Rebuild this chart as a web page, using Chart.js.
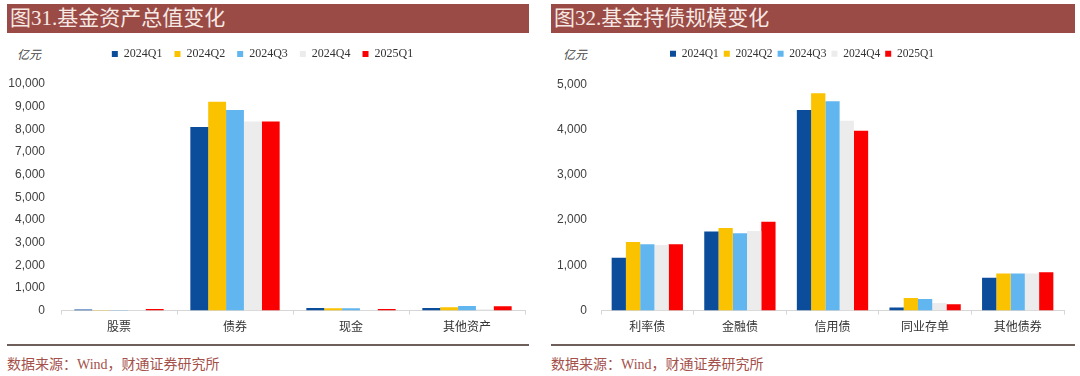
<!DOCTYPE html>
<html>
<head>
<meta charset="utf-8">
<script src="https://cdn.jsdelivr.net/npm/chart.js@4"></script>
<style>
  html, body { margin: 0; padding: 0; background: #ffffff; }
  body { width: 1080px; height: 376px; position: relative; overflow: hidden; }
  .titlebar { position: absolute; top: 4px; height: 29px; background: #9b4b46; color: #f6e9e4;
    font-family: "Liberation Serif", "Noto Sans CJK SC", serif; font-size: 21px; line-height: 29px;
    padding-left: 3px; box-sizing: border-box; white-space: nowrap; }
  .unit { position: absolute; top: 45px; font-family: "Liberation Serif", "Noto Sans CJK SC", serif;
    font-size: 12px; font-style: italic; color: #444; }
  .rule { position: absolute; top: 344px; height: 1.5px; background: #6e5f5b; }
  .source { position: absolute; top: 353px; font-family: "Liberation Serif", "Noto Sans CJK SC", serif;
    font-size: 14px; color: #a4514c; white-space: nowrap; }
  .box { position: absolute; }
</style>
</head>
<body>
<div class="titlebar" style="left:7px;width:522px;">图31.基金资产总值变化</div>
<div class="titlebar" style="left:551px;width:524px;">图32.基金持债规模变化</div>
<div class="unit" style="left:17px;">亿元</div>
<div class="unit" style="left:563px;">亿元</div>
<div class="box" style="left:0px;top:36px;width:540px;height:303px;"><canvas id="c1"></canvas></div>
<div class="box" style="left:540px;top:43px;width:540px;height:296px;"><canvas id="c2"></canvas></div>
<div class="rule" style="left:7px;width:522px;"></div>
<div class="rule" style="left:551px;width:524px;"></div>
<div class="source" style="left:7px;">数据来源：Wind，财通证券研究所</div>
<div class="source" style="left:551px;">数据来源：Wind，财通证券研究所</div>
<script>
// ---- data ----
const seriesNames = ["2024Q1", "2024Q2", "2024Q3", "2024Q4", "2025Q1"];
const seriesColors = ["#0b4d9b", "#fbc200", "#62b6f0", "#ececec", "#fb0000"];

const assetCategories = ["股票", "债券", "现金", "其他资产"];
const asset2024Q1 = [50, 8100, 120, 120];
const asset2024Q2 = [30, 9220, 100, 150];
const asset2024Q3 = [30, 8850, 100, 200];
const asset2024Q4 = [20, 8340, 20, 60];
const asset2025Q1 = [70, 8340, 70, 190];
const assetTicks = [0, 1000, 2000, 3000, 4000, 5000, 6000, 7000, 8000, 9000, 10000];

const bondCategories = ["利率债", "金融债", "信用债", "同业存单", "其他债券"];
const bond2024Q1 = [1170, 1750, 4437, 70, 725];
const bond2024Q2 = [1515, 1825, 4805, 280, 820];
const bond2024Q3 = [1470, 1710, 4628, 258, 820];
const bond2024Q4 = [1450, 1760, 4200, 170, 820];
const bond2025Q1 = [1465, 1965, 3978, 140, 850];
const bondTicks = [0, 1000, 2000, 3000, 4000, 5000];

Chart.defaults.font.family = '"Liberation Sans", "Noto Sans CJK SC", sans-serif';
Chart.defaults.color = "#404040";

const legendSpacer = {
  id: "legendSpacer",
  beforeInit(chart, args, opts) {
    const lg = chart.legend;
    const origFit = lg.fit;
    lg.fit = function () {
      origFit.bind(lg)();
      this.height += (opts.extra || 0);
    };
  }
};

function makeChart(id, categories, seriesData, ticks, cfg) {
  const datasets = seriesNames.map((name, i) => ({
    label: name,
    data: seriesData[i],
    backgroundColor: seriesColors[i],
    borderWidth: 0,
    barPercentage: 1.0,
    categoryPercentage: 0.77
  }));
  return new Chart(document.getElementById(id), {
    type: "bar",
    data: { labels: categories, datasets },
    plugins: [legendSpacer],
    options: {
      responsive: true,
      maintainAspectRatio: false,
      animation: false,
      layout: { padding: { left: 0, right: cfg.padRight, top: 0, bottom: 0 } },
      plugins: {
        legendSpacer: { extra: cfg.legendExtra },
        tooltip: { enabled: false },
        legend: {
          position: "top",
          align: "center",
          labels: {
            boxWidth: 6,
            boxHeight: 6,
            padding: cfg.legendPad,
            color: "#333",
            font: { family: '"Liberation Serif", serif', size: cfg.legendFont }
          }
        }
      },
      scales: {
        x: {
          offset: true,
          border: { display: true, color: "#d6d6d6", width: 1 },
          grid: { display: true, drawOnChartArea: false, drawTicks: true, tickLength: 4, color: "#d6d6d6", offset: true },
          ticks: { padding: 5, color: "#333", font: { size: 12, family: '"Noto Sans CJK SC", sans-serif' }, maxRotation: 0 }
        },
        y: {
          min: 0,
          max: ticks[ticks.length - 1],
          border: { display: false },
          grid: { display: false, drawTicks: false },
          afterBuildTicks(scale) { scale.ticks = ticks.map(v => ({ value: v })); },
          afterFit(scale) { scale.width = cfg.yWidth; },
          ticks: {
            padding: cfg.yPad,
            color: "#404040",
            font: { size: 12 },
            callback: (v) => Number(v).toLocaleString("en-US")
          }
        }
      }
    }
  });
}

makeChart("c1", assetCategories,
  [asset2024Q1, asset2024Q2, asset2024Q3, asset2024Q4, asset2025Q1], assetTicks,
  { padRight: 15, legendPad: 12, legendFont: 12, legendExtra: 14, yWidth: 61, yPad: 16 });

makeChart("c2", bondCategories,
  [bond2024Q1, bond2024Q2, bond2024Q3, bond2024Q4, bond2025Q1], bondTicks,
  { padRight: 16, legendPad: 5, legendFont: 11.5, legendExtra: 15, yWidth: 61, yPad: 14 });
</script>
</body>
</html>
